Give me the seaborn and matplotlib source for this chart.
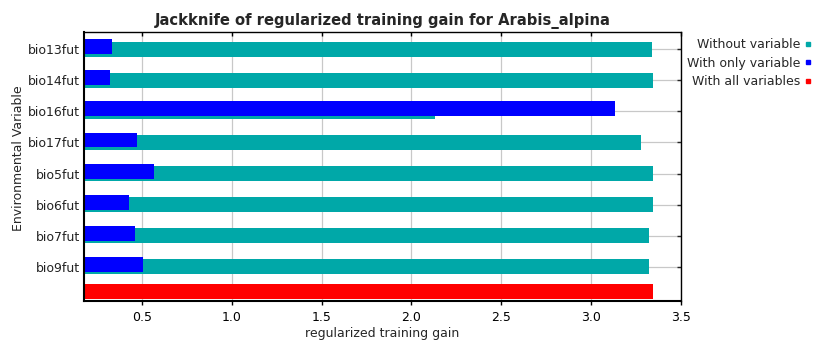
import matplotlib
matplotlib.use("Agg")
import matplotlib.pyplot as plt
from matplotlib.lines import Line2D
import seaborn as sns
import pandas as pd

# Jackknife results (regularized training gain)
variables = ["bio13fut", "bio14fut", "bio16fut", "bio17fut",
             "bio5fut", "bio6fut", "bio7fut", "bio9fut"]
gain_without = [3.336, 3.344, 2.132, 3.280, 3.344, 3.344, 3.324, 3.324]
gain_only = [0.333, 0.324, 3.134, 0.475, 0.568, 0.430, 0.463, 0.507]
gain_all = 3.344

x_ticks = [0.5, 1.0, 1.5, 2.0, 2.5, 3.0, 3.5]
legend_labels = ["Without variable", "With only variable", "With all variables"]

TEAL = "#00a8a8"
BLUE = "#0000ff"
RED = "#ff0000"

sns.set_style("white")
plt.rcParams["font.family"] = ["DejaVu Sans"]
plt.rcParams["font.size"] = 9

df = pd.DataFrame({"variable": variables,
                   "without": gain_without,
                   "only": gain_only})

fig = plt.figure(figsize=(8.15, 3.47), dpi=100)
ax = fig.add_axes([84 / 815, 1 - 301 / 347, (681 - 84) / 815, (301 - 32) / 347])

bar_h = 0.48
sns.barplot(data=df, x="without", y="variable", order=variables, orient="h",
            color=TEAL, saturation=1, width=bar_h, ax=ax, zorder=2,
            edgecolor="none", linewidth=0)
sns.barplot(data=df, x="only", y="variable", order=variables, orient="h",
            color=BLUE, saturation=1, width=bar_h, ax=ax, zorder=3,
            edgecolor="none", linewidth=0)
# the "with only" bars sit slightly above the "without" bars
for p in ax.containers[-1]:
    p.set_y(p.get_y() - 0.079)

# full-model bar below the variable rows
ax.barh(7.80, gain_all, height=bar_h, color=RED, zorder=3, linewidth=0)

ax.set_xlim(0.178, 3.5)
ax.set_ylim(8.099, -0.553)
ax.set_xticks(x_ticks)
ax.set_xticklabels([f"{v:.1f}" for v in x_ticks])
ax.set_yticks(range(len(variables)))
ax.set_yticklabels(variables)

ax.grid(True, color="#c8c8c8", lw=0.9)
ax.set_axisbelow(True)
for s in ax.spines.values():
    s.set_visible(True)
    s.set_color("black")
    s.set_linewidth(1.0)
    s.set_zorder(4)
ax.spines["left"].set_linewidth(1.5)
ax.spines["bottom"].set_linewidth(1.5)

ax.tick_params(axis="x", which="both", bottom=True, top=True, direction="out",
               length=3, width=1, pad=4, labelsize=9, colors="black")
for t in ax.xaxis.get_major_ticks():
    t.tick2line.set_marker(matplotlib.markers.TICKDOWN)
ax.tick_params(axis="y", left=False, right=True, direction="in",
               length=3, width=1, pad=3, labelsize=9, labelcolor="#222222")

ax.set_xlabel("regularized training gain", fontsize=9, labelpad=2)
ax.set_ylabel("Environmental Variable", fontsize=9)
ax.yaxis.set_label_coords(-0.098, 0.53)
ax.set_title("Jackknife of regularized training gain for Arabis_alpina",
             fontsize=10.6, fontweight="bold", pad=5)

handles = [Line2D([], [], marker="s", linestyle="none", color=c, markersize=3.5)
           for c in (TEAL, BLUE, RED)]
fig.legend(handles, legend_labels, loc="upper right",
           bbox_to_anchor=(0.998, 0.89), frameon=False, markerfirst=False,
           handlelength=0.8, handletextpad=0.25, labelspacing=0.45,
           borderpad=0, borderaxespad=0, fontsize=9)

fig.savefig("out.png", dpi=100)
